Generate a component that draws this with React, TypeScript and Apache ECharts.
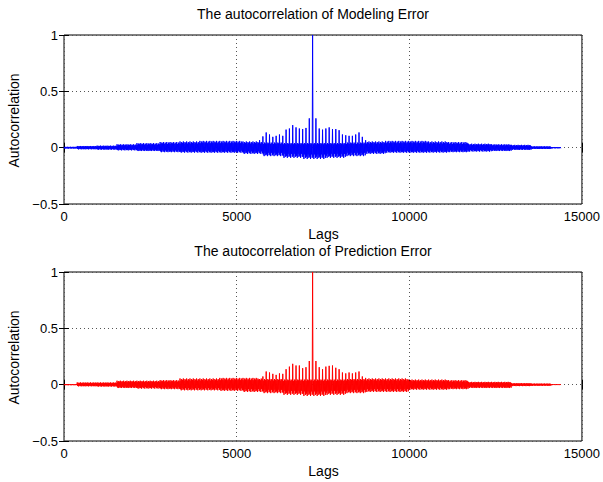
import React, { useEffect, useRef } from "react";
import * as echarts from "echarts";

const envelopeLags = [0, 600, 1200, 1800, 2400, 3000, 3600, 4200, 4800, 5400, 6000, 6600, 7200, 7800, 8400, 9000, 9600, 10200, 10800, 11400, 12000, 12600, 13200, 13800, 14398];

// Modeling error: band top / bottom
const modelUpper = [0.008, 0.015, 0.018, 0.03, 0.04, 0.05, 0.055, 0.06, 0.06, 0.055, 0.05, 0.045, 0.045, 0.045, 0.05, 0.055, 0.06, 0.06, 0.055, 0.05, 0.035, 0.03, 0.025, 0.012, 0.006];
const modelLower = [-0.008, -0.015, -0.018, -0.024, -0.03, -0.04, -0.044, -0.045, -0.045, -0.055, -0.075, -0.09, -0.1, -0.09, -0.075, -0.055, -0.045, -0.045, -0.044, -0.04, -0.035, -0.03, -0.02, -0.012, -0.006];
// Modeling error: periodic spike heights around the centre (period index 59..91, centre = 75)
const modelSpikes = [0.066, 0.1, 0.135, 0.117, 0.096, 0.105, 0.117, 0.105, 0.16, 0.17, 0.2, 0.18, 0.17, 0.165, 0.175, 0.26, 1.0, 0.26, 0.17, 0.16, 0.17, 0.18, 0.165, 0.165, 0.155, 0.117, 0.11, 0.105, 0.105, 0.117, 0.135, 0.096, 0.066];

// Prediction error: band top / bottom
const predUpper = [0.005, 0.02, 0.02, 0.035, 0.035, 0.04, 0.055, 0.055, 0.06, 0.06, 0.055, 0.05, 0.05, 0.05, 0.055, 0.055, 0.055, 0.045, 0.045, 0.04, 0.025, 0.025, 0.013, 0.01, 0.004];
const predLower = [-0.005, -0.015, -0.017, -0.03, -0.035, -0.04, -0.05, -0.05, -0.055, -0.065, -0.075, -0.09, -0.1, -0.09, -0.075, -0.065, -0.065, -0.045, -0.045, -0.04, -0.03, -0.03, -0.013, -0.01, -0.004];
const predSpikes = [0.05, 0.073, 0.117, 0.108, 0.096, 0.087, 0.1, 0.096, 0.137, 0.16, 0.185, 0.17, 0.17, 0.146, 0.155, 0.21, 1.0, 0.21, 0.155, 0.137, 0.16, 0.167, 0.17, 0.15, 0.137, 0.108, 0.1, 0.108, 0.1, 0.108, 0.117, 0.073, 0.06];

const xTicks = [0, 5000, 10000, 15000];
const yTicks = [-0.5, 0, 0.5, 1];
const titles = ["The autocorrelation of Modeling Error", "The autocorrelation of Prediction Error"];

// Shape of one period between spikes (fraction of band top / bottom), read as texture
const withinPeriod = [
  ["lo", 0.8], ["up", 0.65], ["lo", 1.0], ["up", 0.9], ["lo", 0.6], ["up", 0.75], ["lo", 0.9],
] as const;

const PERIOD = 96;
const N_PERIODS = 150;
const SPIKE_START = 59;

function buildSeries(upper: number[], lower: number[], spikes: number[]) {
  const pts: number[][] = [];
  const step = PERIOD / (withinPeriod.length + 1);
  for (let k = 0; k < N_PERIODS; k++) {
    const lag = k * PERIOD;
    let idx = 0;
    for (let i = 0; i < envelopeLags.length; i++) {
      if (Math.abs(envelopeLags[i] - lag) < Math.abs(envelopeLags[idx] - lag)) idx = i;
    }
    const up = upper[idx];
    const lo = lower[idx];
    const si = k - SPIKE_START;
    const s = si >= 0 && si < spikes.length ? spikes[si] : up;
    pts.push([lag, s]);
    withinPeriod.forEach(([side, f], j) => {
      pts.push([lag + step * (j + 1), (side === "up" ? up : lo) * f]);
    });
  }
  pts.push([envelopeLags[envelopeLags.length - 1], 0]);
  return pts;
}

const FONT = "'Liberation Sans', Arial, Helvetica, sans-serif";
const GRID_LEFT = 64;
const GRID_W = 519;
const GRID_H = 169;
const TOPS = [35, 272];

export default function App() {
  const ref = useRef<HTMLDivElement>(null);
  useEffect(() => {
    if (!ref.current) return;
    const chart = echarts.init(ref.current, undefined, { renderer: "svg" });
    const xMin = xTicks[0];
    const xMax = xTicks[xTicks.length - 1];
    const xInt = xTicks[1] - xTicks[0];
    const yMin = yTicks[0];
    const yMax = yTicks[yTicks.length - 1];
    const yInt = yTicks[1] - yTicks[0];
    const labelStyle = { color: "#000", fontSize: 13, fontFamily: FONT };
    const gridLine = { show: true, lineStyle: { color: "#555", type: [1, 3], width: 1 } };
    const tick = { show: true, inside: true, length: 5, lineStyle: { color: "#000", width: 1 } };
    const xAxes: any[] = [];
    const yAxes: any[] = [];
    [0, 1].forEach((g) => {
      xAxes.push({
        type: "value", gridIndex: g, min: xMin, max: xMax, interval: xInt, position: "bottom",
        axisLine: { show: false }, axisTick: tick,
        axisLabel: { ...labelStyle, margin: 6, formatter: (v: number) => String(v) },
        splitLine: gridLine,
      });
      xAxes.push({
        type: "value", gridIndex: g, min: xMin, max: xMax, interval: xInt, position: "top",
        axisLine: { show: false }, axisTick: tick, axisLabel: { show: false }, splitLine: { show: false },
      });
      yAxes.push({
        type: "value", gridIndex: g, min: yMin, max: yMax, interval: yInt, position: "left",
        axisLine: { show: false }, axisTick: tick,
        axisLabel: { ...labelStyle, margin: 6, formatter: (v: number) => String(v).replace("-", "\u2212") },
        splitLine: gridLine,
      });
      yAxes.push({
        type: "value", gridIndex: g, min: yMin, max: yMax, interval: yInt, position: "right",
        axisLine: { show: false }, axisTick: tick, axisLabel: { show: false }, splitLine: { show: false },
      });
    });
    const graphics: any[] = [];
    [0, 1].forEach((g) => {
      const top = TOPS[g];
      graphics.push({
        type: "text", x: 313, y: top - 21,
        style: { text: titles[g], align: "center", verticalAlign: "middle", fontSize: 14, fontFamily: FONT, fill: "#000" },
      });
      graphics.push({
        type: "text", x: GRID_LEFT + GRID_W / 2, y: top + GRID_H + 30,
        style: { text: "Lags", align: "center", verticalAlign: "middle", fontSize: 14, fontFamily: FONT, fill: "#000" },
      });
      graphics.push({
        type: "text", x: 14, y: top + GRID_H / 2 + 1, rotation: Math.PI / 2,
        style: { text: "Autocorrelation", align: "center", verticalAlign: "middle", fontSize: 14, fontFamily: FONT, fill: "#000" },
      });
    });
    chart.setOption({
      animation: false,
      backgroundColor: "#fff",
      textStyle: { fontFamily: FONT },
      grid: TOPS.map((t) => ({
        left: GRID_LEFT, top: t, width: GRID_W, height: GRID_H,
        show: true, borderColor: "#000", borderWidth: 1, backgroundColor: "transparent",
      })),
      xAxis: xAxes,
      yAxis: yAxes,
      graphic: graphics,
      series: [
        {
          type: "line", xAxisIndex: 0, yAxisIndex: 0, data: buildSeries(modelUpper, modelLower, modelSpikes),
          showSymbol: false, symbol: "none",
          lineStyle: { color: "#0000ff", width: 1 }, itemStyle: { color: "#0000ff" }, z: 3,
        },
        {
          type: "line", xAxisIndex: 2, yAxisIndex: 2, data: buildSeries(predUpper, predLower, predSpikes),
          showSymbol: false, symbol: "none",
          lineStyle: { color: "#ff0000", width: 1 }, itemStyle: { color: "#ff0000" }, z: 3,
        },
      ],
    });
    return () => chart.dispose();
  }, []);
  return (
    <div
      ref={ref}
      style={{ position: "fixed", left: 0, top: 0, width: 603, height: 482, background: "#fff" }}
    />
  );
}
